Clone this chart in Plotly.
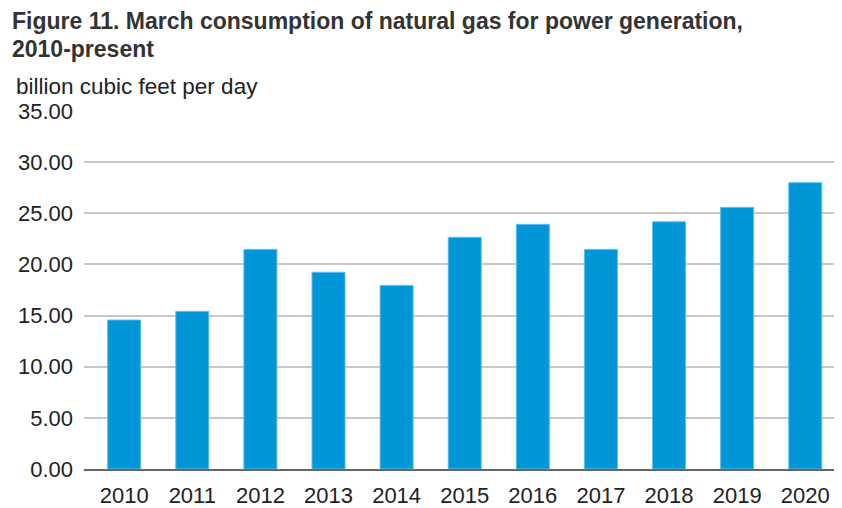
import plotly.graph_objects as go

years = ["2010", "2011", "2012", "2013", "2014", "2015", "2016", "2017", "2018", "2019", "2020"]
consumption = [14.57, 15.41, 21.47, 19.23, 17.95, 22.65, 23.92, 21.47, 24.17, 25.58, 27.99]
y_ticks = [0, 5, 10, 15, 20, 25, 30, 35]
y_tick_labels = ["0.00", "5.00", "10.00", "15.00", "20.00", "25.00", "30.00", "35.00"]

# page shows the figure offset by the default body margin (8px)
OFF = 8
W, H = 842 - OFF, 508 - OFF
# plot area in page pixels: left 84, right 840, top 111, bottom 469
ML, MR, MT, MB = 84 - OFF, W - (840 - OFF), 111 - OFF, H - (469 - OFF)
PW, PH = W - ML - MR, H - MT - MB


def px(page_x):
    return (page_x - OFF - ML) / PW


def py(page_y):
    return 1 - (page_y - OFF - MT) / PH


fig = go.Figure(go.Bar(
    x=years, y=consumption,
    marker=dict(color="#0096d7", line=dict(color="#5bc0ec", width=1)),
    width=0.485,
))

title_font = dict(family="Liberation Sans, Arial, sans-serif", size=23, color="#333333")
fig.update_layout(
    width=W, height=H,
    margin=dict(l=ML, r=MR, t=MT, b=MB, autoexpand=False),
    paper_bgcolor="white", plot_bgcolor="white",
    font=dict(family="Liberation Sans, Arial, sans-serif", color="#222222"),
    showlegend=False,
    annotations=[
        dict(text="<b>Figure 11. March consumption of natural gas for power generation,</b>",
             xref="paper", yref="paper", x=px(10), y=py(21), xanchor="left", yanchor="middle",
             showarrow=False, font=title_font),
        dict(text="<b>2010-present</b>",
             xref="paper", yref="paper", x=px(10), y=py(48.5), xanchor="left", yanchor="middle",
             showarrow=False, font=title_font),
        dict(text="billion cubic feet per day",
             xref="paper", yref="paper", x=px(14), y=py(86), xanchor="left", yanchor="middle",
             showarrow=False, font=dict(size=22.5, color="#222222")),
    ],
    xaxis=dict(
        type="category", range=[-0.59, 10.51],
        showgrid=False, showline=True, linecolor="#666666", linewidth=1.5,
        ticks="", tickfont=dict(size=22, color="#222222"),
        ticklabelstandoff=6,
    ),
    yaxis=dict(
        range=[0, 35], tickvals=y_ticks, ticktext=y_tick_labels,
        showgrid=True, gridcolor="#c8c8c8", gridwidth=1.5,
        zeroline=False, showline=False, ticks="",
        tickfont=dict(size=22, color="#222222"),
        ticklabelstandoff=10,
    ),
)

fig.write_html("out.html")
